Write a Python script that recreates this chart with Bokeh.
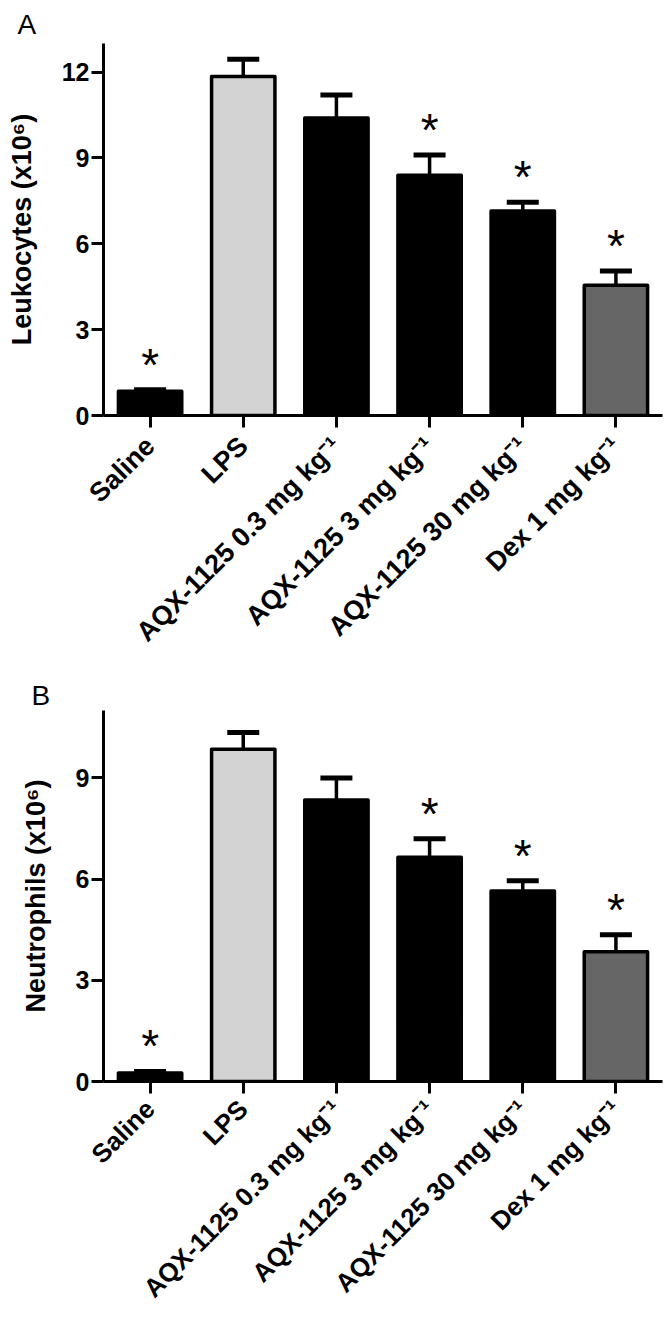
import math
from bokeh.plotting import figure
from bokeh.layouts import column
from bokeh.models import ColumnDataSource, FactorRange, Range1d, Whisker, TeeHead, FixedTicker
from bokeh.core.properties import value
from bokeh.embed import file_html
from bokeh.resources import INLINE

# ---------------- data ----------------
categories = ["Saline", "LPS", "AQX-1125 0.3 mg kg\u207b\u00b9", "AQX-1125 3 mg kg\u207b\u00b9",
              "AQX-1125 30 mg kg\u207b\u00b9", "Dex 1 mg kg\u207b\u00b9"]
leukocytes_mean = [0.85, 11.85, 10.4, 8.4, 7.15, 4.55]
leukocytes_sem = [0.05, 0.6, 0.8, 0.7, 0.3, 0.5]
neutrophils_mean = [0.25, 9.85, 8.35, 6.65, 5.65, 3.85]
neutrophils_sem = [0.05, 0.5, 0.65, 0.55, 0.3, 0.5]
significant = [True, False, False, True, True, True]
bar_colors = ["#000000", "#d3d3d3", "#000000", "#000000", "#000000", "#666666"]
ticks_A = [0, 3, 6, 9, 12]
ticks_B = [0, 3, 6, 9]

FONT = "Liberation Sans"


def make_panel(letter, ylabel, means, sems, ymax, ticks, width, height,
               b_left, b_right, b_top, b_bottom, title_offset, title_standoff,
               xlabel_size, xlabel_standoff):
    src = ColumnDataSource(dict(cat=categories, mean=means,
                                upper=[m + s for m, s in zip(means, sems)],
                                color=bar_colors))
    sig_src = ColumnDataSource(dict(
        cat=[c for c, s in zip(categories, significant) if s],
        upper=[m + e for m, e, s in zip(means, sems, significant) if s]))

    p = figure(x_range=FactorRange(factors=categories, range_padding=0),
               y_range=Range1d(0, ymax), width=width, height=height,
               output_backend="svg", toolbar_location=None,
               min_border_left=b_left, min_border_right=b_right,
               min_border_top=b_top, min_border_bottom=b_bottom)
    p.outline_line_color = None
    p.xgrid.grid_line_color = None
    p.ygrid.grid_line_color = None

    p.vbar(x="cat", top="mean", width=0.68, source=src, fill_color="color",
           line_color="black", line_width=3.5, line_join="round")

    w = Whisker(source=src, base="cat", upper="upper", lower="mean",
                line_width=3.5, line_color="black",
                upper_head=TeeHead(size=32, line_width=5, line_color="black"),
                lower_head=None)
    p.add_layout(w)

    p.text(x="cat", y="upper", text=value("*"), source=sig_src,
           text_font=value(FONT), text_font_size="46px", text_align="center",
           text_baseline="middle", y_offset=-25, text_color="black")

    p.title.text = letter
    p.title.text_font = FONT
    p.title.text_font_size = "28px"
    p.title.text_font_style = "normal"
    p.title.text_color = "black"
    p.title.align = "left"
    p.title.offset = title_offset
    p.title.standoff = title_standoff

    for ax in (p.xaxis[0], p.yaxis[0]):
        ax.axis_line_width = 3
        ax.axis_line_color = "black"
        ax.major_tick_line_width = 3
        ax.major_tick_line_color = "black"
        ax.major_tick_out = 12
        ax.major_tick_in = 0
        ax.minor_tick_line_color = None
        ax.major_label_text_font = FONT
        ax.major_label_text_font_style = "bold"
        ax.major_label_text_color = "black"

    p.xaxis.major_label_text_font_size = xlabel_size
    p.xaxis.major_label_orientation = math.pi / 4
    p.xaxis.major_label_standoff = xlabel_standoff

    p.yaxis.ticker = FixedTicker(ticks=ticks)
    p.yaxis.major_label_text_font_size = "25px"
    p.yaxis.major_label_standoff = 2
    p.yaxis.axis_label = ylabel
    p.yaxis.axis_label_text_font = FONT
    p.yaxis.axis_label_text_font_style = "bold"
    p.yaxis.axis_label_text_color = "black"
    p.yaxis.axis_label_text_font_size = "27px"
    p.yaxis.axis_label_standoff = 22
    return p


pA = make_panel("A", "Leukocytes (x10\u2076)", leukocytes_mean, leukocytes_sem, 13, ticks_A,
                668, 662, 103, 5, 43, 247, -86, 7, "27px", 14)
pB = make_panel("B", "Neutrophils (x10\u2076)", neutrophils_mean, neutrophils_sem, 11, ticks_B,
                668, 654, 100, 6, 48, 234, -72, 0, "26px", 11)

layout = column(pA, pB, spacing=0)
open("out.html", "w").write(file_html(layout, INLINE))
